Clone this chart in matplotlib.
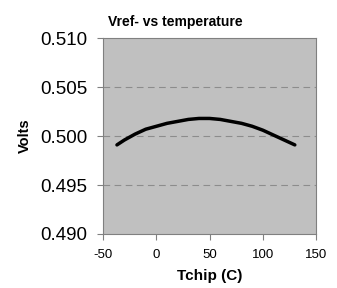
import matplotlib
matplotlib.use('Agg')
import matplotlib.pyplot as plt

# chip temperature (C) and Vref- reading (V)
tchip = [-37, -30, -20, -10, 0, 10, 20, 30, 40, 50, 60, 70, 80, 90, 100, 110, 120, 130]
vref = [0.4991, 0.4996, 0.5002, 0.5007, 0.5010, 0.5013, 0.5015, 0.5017, 0.5018,
        0.5018, 0.5017, 0.5015, 0.5013, 0.5010, 0.5006, 0.5001, 0.4996, 0.4991]
xticks = [-50, 0, 50, 100, 150]
yticks = [0.490, 0.495, 0.500, 0.505, 0.510]

plt.rcParams['font.family'] = ['Liberation Sans', 'DejaVu Sans']

fig = plt.figure(figsize=(3.37, 2.88), dpi=100)
ax = fig.add_axes([0.306, 0.1875, 0.632, 0.68])
ax.set_facecolor('#c0c0c0')

for y in yticks[1:-1]:
    ax.axhline(y, color='#8c8c8c', lw=0.8, ls=(0, (6, 4)), zorder=1)

ax.plot(tchip, vref, color='black', lw=2.5, solid_capstyle='round', zorder=3)

ax.set_xlim(-50, 150)
ax.set_ylim(0.490, 0.510)
ax.set_xticks(xticks)
ax.set_yticks(yticks)
ax.set_xticklabels([str(t) for t in xticks], fontsize=9.5)
ax.set_yticklabels(['%.3f' % v for v in yticks], fontsize=13.5)
ax.tick_params(direction='out', length=4.5, width=0.8, color='#808080')
ax.tick_params(axis='x', pad=6)
ax.tick_params(axis='y', pad=7)

for s in ax.spines.values():
    s.set_color('#808080')
    s.set_linewidth(0.8)

ax.set_xlabel('Tchip (C)', fontsize=11, fontweight='bold', labelpad=6)
ax.set_ylabel('Volts', fontsize=10.5, fontweight='bold', labelpad=6)
fig.text(0.519, 0.924, 'Vref- vs temperature', fontsize=10, fontweight='bold',
         ha='center', va='center')

fig.savefig('out.png', dpi=100)
